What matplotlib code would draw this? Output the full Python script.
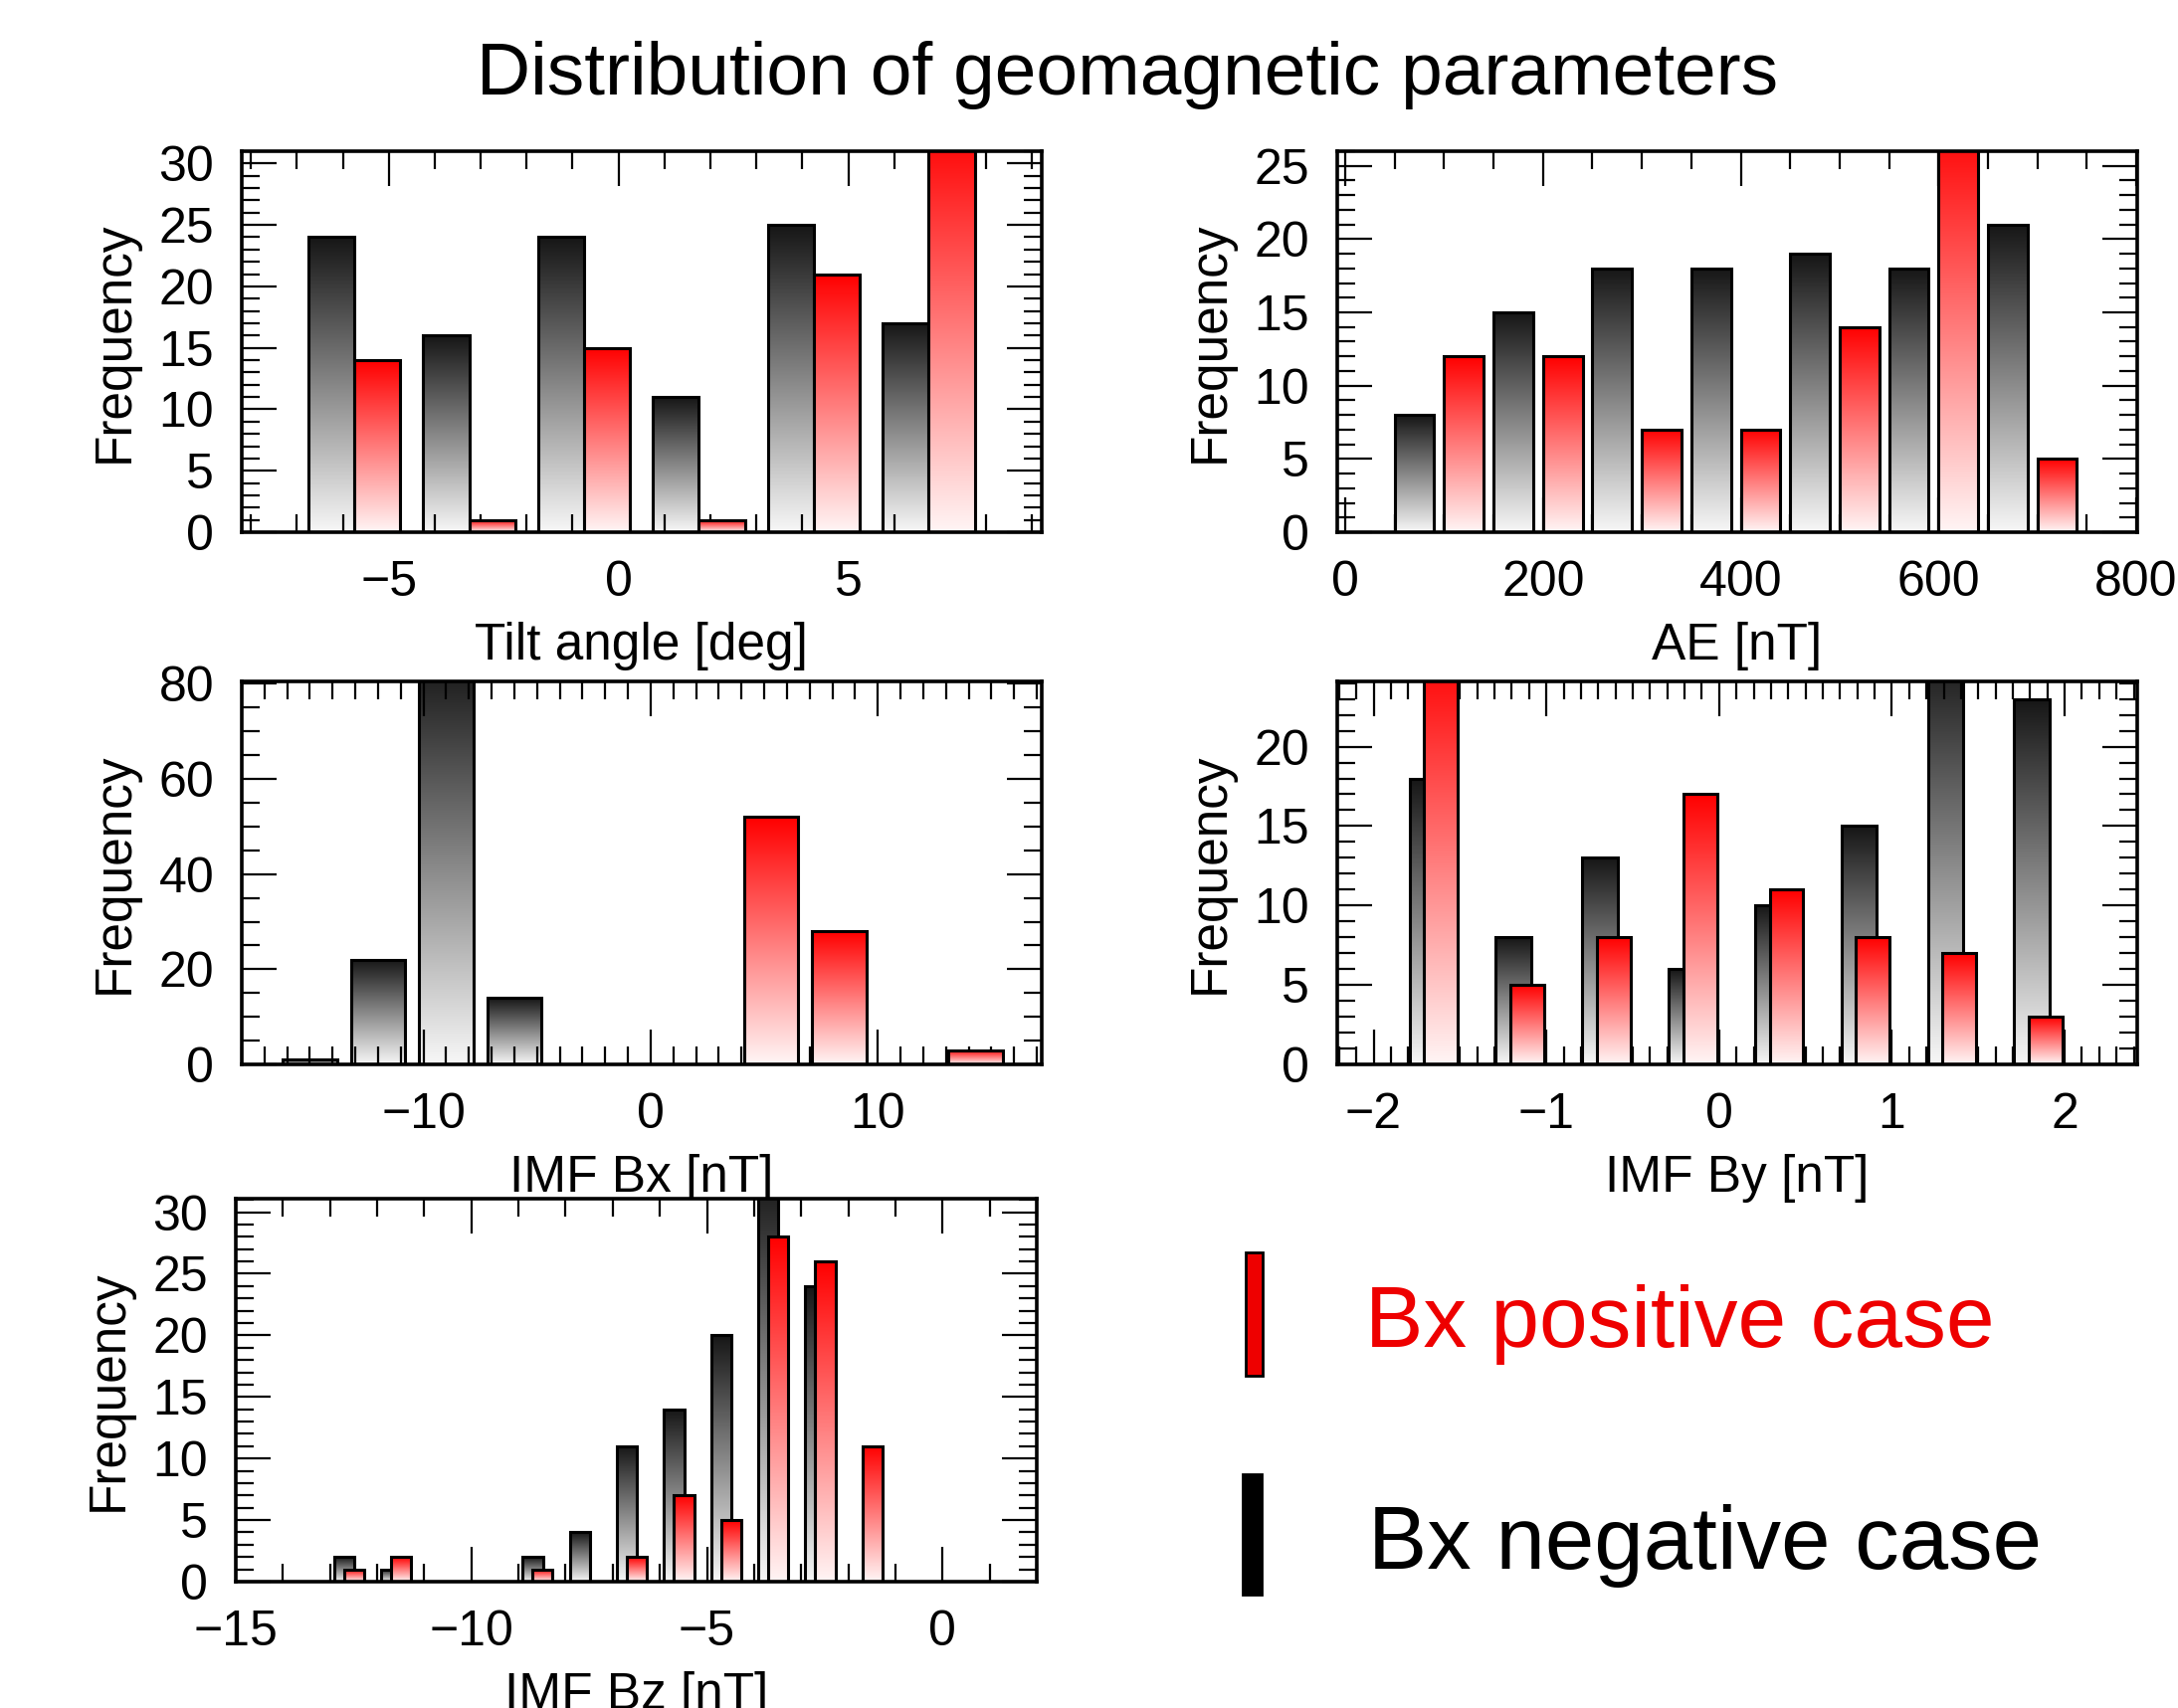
import numpy as np
import matplotlib
matplotlib.use('Agg')
import matplotlib.pyplot as plt
from matplotlib.colors import LinearSegmentedColormap
from matplotlib.ticker import MultipleLocator
from matplotlib.patches import Rectangle

plt.rcParams['font.family'] = ['Liberation Sans', 'DejaVu Sans']

# Tilt angle [deg]
tilt_neg_x = [-6.25, -3.75, -1.25, 1.25, 3.75, 6.25]
tilt_neg = [24, 16, 24, 11, 25, 17]
tilt_pos_x = [-5.25, -2.75, -0.25, 2.25, 4.75, 7.25]
tilt_pos = [14, 1, 15, 1, 21, 33]

# AE [nT]
ae_neg_x = [70, 170, 270, 370, 470, 570, 670]
ae_neg = [8, 15, 18, 18, 19, 18, 21]
ae_pos_x = [120, 220, 320, 420, 520, 620, 720]
ae_pos = [12, 12, 7, 7, 14, 28, 5]

# IMF Bx [nT]
bx_neg_x = [-15, -12, -9, -6]
bx_neg = [1, 22, 85, 14]
bx_pos_x = [5.3, 8.3, 11.3, 14.3]
bx_pos = [52, 28, 0, 3]

# IMF By [nT]
by_neg_x = [-1.69, -1.19, -0.69, -0.19, 0.31, 0.81, 1.31, 1.81]
by_neg = [18, 8, 13, 6, 10, 15, 26, 23]
by_pos_x = [-1.61, -1.11, -0.61, -0.11, 0.39, 0.89, 1.39, 1.89]
by_pos = [26, 5, 8, 17, 11, 8, 7, 3]

# IMF Bz [nT]
bz_neg_x = [-12.7, -11.7, -8.7, -7.7, -6.7, -5.7, -4.7, -3.7, -2.7]
bz_neg = [2, 1, 2, 4, 11, 14, 20, 33, 24]
bz_pos_x = [-12.49, -11.49, -8.49, -6.49, -5.49, -4.49, -3.49, -2.49, -1.49]
bz_pos = [1, 2, 1, 2, 7, 5, 28, 26, 11]

grey_cmap = LinearSegmentedColormap.from_list('grey', ['#f7f7f7', '#161616'])
red_cmap = LinearSegmentedColormap.from_list('redgrad', ['#fff5f5', '#ff0000'])
grad = np.linspace(0, 1, 256).reshape(-1, 1)


def gradient_bars(ax, x, h, width, cmap, z):
    bars = ax.bar(x, h, width, facecolor='none', edgecolor='black',
                  linewidth=2.2, zorder=z + 0.1)
    for b in bars:
        x0, w, hh = b.get_x(), b.get_width(), b.get_height()
        if hh <= 0:
            continue
        ax.imshow(grad, cmap=cmap, extent=[x0, x0 + w, 0, hh], origin='lower',
                  aspect='auto', zorder=z, interpolation='bilinear')


def style(ax, xlim, ylim, xmaj, xmin, ymaj, ymin, xlabel):
    ax.set_xlim(*xlim)
    ax.set_ylim(*ylim)
    ax.xaxis.set_major_locator(MultipleLocator(xmaj))
    ax.xaxis.set_minor_locator(MultipleLocator(xmin))
    ax.yaxis.set_major_locator(MultipleLocator(ymaj))
    ax.yaxis.set_minor_locator(MultipleLocator(ymin))
    ax.tick_params(which='both', direction='in', top=True, right=True,
                   width=1.6, labelsize=36, pad=20)
    ax.tick_params(which='major', length=25)
    ax.tick_params(which='minor', length=13)
    for s in ax.spines.values():
        s.set_linewidth(2.6)
    ax.set_xlabel(xlabel, fontsize=37, labelpad=12)
    ax.set_ylabel('Frequency', fontsize=37, labelpad=14)


fig = plt.figure(figsize=(21.89, 17.17), dpi=100)

ax1 = fig.add_axes([0.1110, 0.6884, 0.3671, 0.2231])
gradient_bars(ax1, tilt_neg_x, tilt_neg, 1.0, grey_cmap, 1)
gradient_bars(ax1, tilt_pos_x, tilt_pos, 1.0, red_cmap, 2)
style(ax1, (-8.2, 9.2), (0, 31), 5, 1, 5, 1, 'Tilt angle [deg]')

ax2 = fig.add_axes([0.6140, 0.6884, 0.3673, 0.2231])
gradient_bars(ax2, ae_neg_x, ae_neg, 40, grey_cmap, 1)
gradient_bars(ax2, ae_pos_x, ae_pos, 40, red_cmap, 2)
style(ax2, (-8, 801), (0, 26), 200, 50, 5, 1, 'AE [nT]')

ax3 = fig.add_axes([0.1110, 0.3768, 0.3671, 0.2242])
gradient_bars(ax3, bx_neg_x, bx_neg, 2.4, grey_cmap, 1)
gradient_bars(ax3, bx_pos_x, bx_pos, 2.4, red_cmap, 2)
style(ax3, (-18, 17.2), (0, 80.5), 10, 1, 20, 5, 'IMF Bx [nT]')

ax4 = fig.add_axes([0.6140, 0.3768, 0.3673, 0.2242])
gradient_bars(ax4, by_neg_x, by_neg, 0.205, grey_cmap, 1)
gradient_bars(ax4, by_pos_x, by_pos, 0.195, red_cmap, 2)
style(ax4, (-2.21, 2.42), (0, 24.1), 1, 0.1, 5, 1, 'IMF By [nT]')

ax5 = fig.add_axes([0.1083, 0.0740, 0.3677, 0.2242])
gradient_bars(ax5, bz_neg_x, bz_neg, 0.43, grey_cmap, 1)
gradient_bars(ax5, bz_pos_x, bz_pos, 0.43, red_cmap, 2)
style(ax5, (-15, 2), (0, 31.1), 5, 1, 5, 1, 'IMF Bz [nT]')

fig.text(0.5176, 0.9445, 'Distribution of geomagnetic parameters',
         ha='center', va='baseline', fontsize=54)

# legend swatches and labels
fig.patches.append(Rectangle((0.5720, 0.1945), 0.0078, 0.0722, transform=fig.transFigure,
                             facecolor='#ee0000', edgecolor='black', linewidth=2))
fig.patches.append(Rectangle((0.5706, 0.0664), 0.0087, 0.0705, transform=fig.transFigure,
                             facecolor='black', edgecolor='black', linewidth=2))
fig.text(0.6268, 0.2114, 'Bx positive case', color='#ee0000', fontsize=63, va='baseline')
fig.text(0.6280, 0.0815, 'Bx negative case', color='black', fontsize=64, va='baseline')

fig.savefig('out.png', dpi=100)
